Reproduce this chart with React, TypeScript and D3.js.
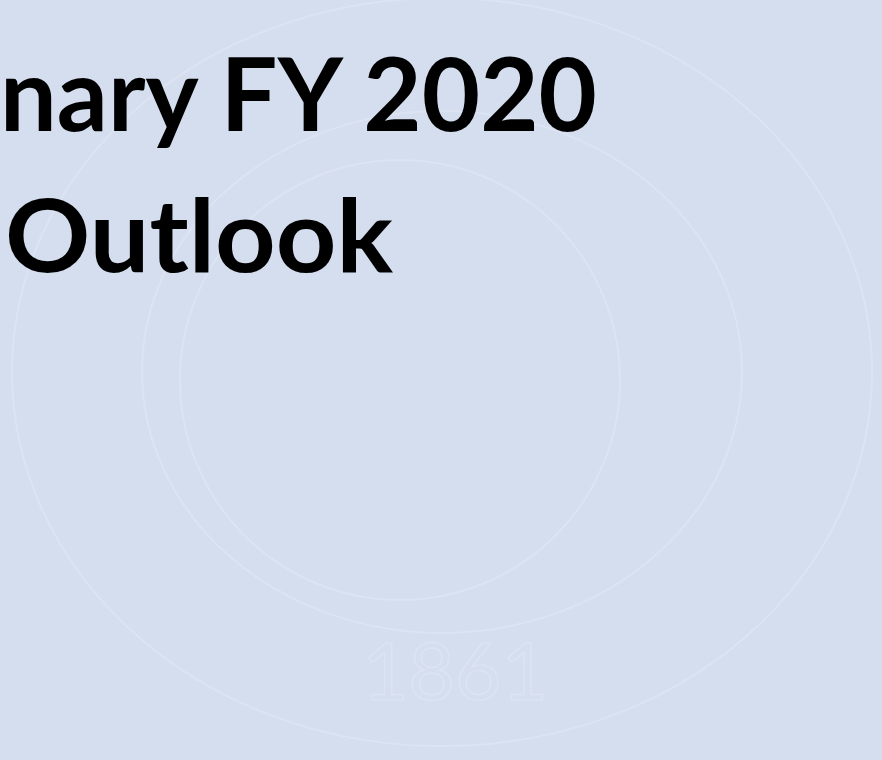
import React from "react";
import * as d3 from "d3";

const W = 882;
const H = 760;
const titleLines = ["nary FY 2020", "Outlook"];
const sealYear = "1861";
const sealRings = [430, 300];

export default function App() {
  const y = d3.scaleLinear().domain([0, 1]).range([131, 272]);
  const font = "Lato, 'Open Sans', sans-serif";
  return (
    <svg
      width={W}
      height={H}
      style={{ position: "fixed", left: 0, top: 0, display: "block" }}
    >
      <rect width={W} height={H} fill="#D5DEEF" />
      <g fill="none" stroke="#DCE3F2" strokeWidth={2}>
        {sealRings.map((r, i) => (
          <ellipse key={i} cx={442} cy={372} rx={r} ry={r * 0.87} />
        ))}
        <circle cx={400} cy={380} r={220} />
      </g>
      <text
        x={455}
        y={700}
        textAnchor="middle"
        fontFamily={font}
        fontSize={80}
        fill="none"
        stroke="#DCE3F2"
        strokeWidth={1.5}
      >
        {sealYear}
      </text>
      <text
        x={0}
        y={y(0)}
        textLength={597}
        lengthAdjust="spacingAndGlyphs"
        fontFamily={font}
        fontWeight={700}
        fontSize={102}
        fill="#000"
      >
        {titleLines[0]}
      </text>
      <text
        x={5}
        y={y(1)}
        textLength={388}
        lengthAdjust="spacingAndGlyphs"
        fontFamily={font}
        fontWeight={700}
        fontSize={102}
        fill="#000"
      >
        {titleLines[1]}
      </text>
    </svg>
  );
}
